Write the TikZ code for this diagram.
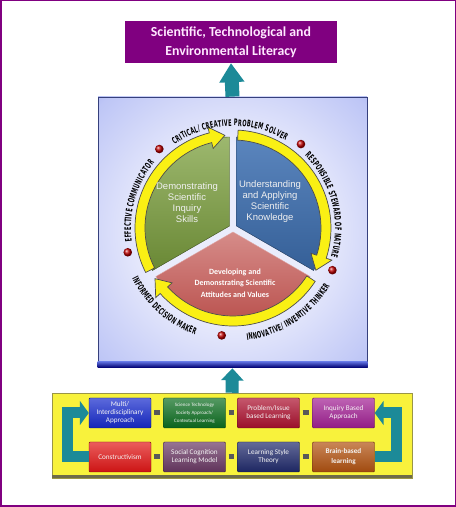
\documentclass[tikz,border=0pt]{standalone}
\usepackage{fontspec}
\setmainfont{Carlito}
\newfontfamily\arialfont{Liberation Sans}
\newfontfamily\ringfont[FakeStretch=0.55]{DejaVu Sans}
\usepackage{tikz}
\usetikzlibrary{
  arrows.meta,
  calc,
  decorations.text
}
\definecolor{goalpurple}{RGB}{128,0,128}
\definecolor{goaltext}{RGB}{255,232,255}
\definecolor{tealflow}{RGB}{28,138,152}
\definecolor{panelin}{RGB}{234,236,252}
\definecolor{panelmid}{RGB}{190,198,246}
\definecolor{panelout}{RGB}{98,116,226}
\definecolor{ringyellow}{RGB}{250,240,20}
\definecolor{inqgreen}{RGB}{124,160,62}
\definecolor{knowblue}{RGB}{62,112,178}
\definecolor{attred}{RGB}{192,78,74}
\definecolor{baseyellow}{RGB}{248,242,60}
\definecolor{multiblue}{RGB}{22,42,205}
\definecolor{stsgreen}{RGB}{12,110,32}
\definecolor{pblred}{RGB}{172,16,46}
\definecolor{inqmag}{RGB}{162,32,148}
\definecolor{consred}{RGB}{226,22,22}
\definecolor{socpurple}{RGB}{106,56,100}
\definecolor{lsnavy}{RGB}{32,42,108}
\definecolor{brainbrown}{RGB}{178,82,16}
\pgfdeclareradialshading{panelglow}{\pgfpoint{0bp}{0bp}}{color(0bp)=(panelin); color(16bp)=(panelin); color(34bp)=(panelmid); color(50bp)=(panelout)}
\newcommand{\ringstyle}{\ringfont\bfseries\fontsize{9}{9}\selectfont\kern0.3pt}
\newcommand{\ringarrow}[2]{%
  \filldraw[ringarrow] ([shift={(#1:98pt)}]c) arc[start angle=#1, end angle=#2+9, radius=98pt]
    -- ([shift={(#2+9:104pt)}]c) -- ([shift={(#2:93pt)}]c) -- ([shift={(#2+9:82pt)}]c)
    -- ([shift={(#2+9:88pt)}]c) arc[start angle=#2+9, end angle=#1, radius=88pt] -- cycle;}
\tikzset{
  goalbox/.style={
    fill=goalpurple,
    text=goaltext,
    font=\bfseries\fontsize{13.8}{19}\selectfont,
    align=center,
    minimum width=212pt,
    minimum height=42pt,
    inner sep=0pt},
  panel/.style={
    shading=panelglow,
    draw=panelout!55!black,
    line width=0.8pt,
    minimum width=269pt,
    minimum height=270pt},
  basebox/.style={
    fill=baseyellow,
    draw=yellow!55!black,
    line width=0.5pt,
    minimum width=360pt,
    minimum height=85pt},
  upflow/.style={
    -{Triangle[width=24pt,length=19pt]},
    line width=14pt,
    draw=tealflow},
  smallflow/.style={
    -{Triangle[width=22pt,length=12pt]},
    line width=13pt,
    draw=tealflow},
  cycleflow/.style={
    -{Triangle[width=24pt,length=9pt]},
    line width=11pt,
    draw=tealflow},
  approach/.style={
    top color=#1!70!white,
    bottom color=#1!90!black,
    draw=#1!55!black,
    rounded corners=1pt,
    minimum width=62pt,
    minimum height=30pt,
    inner sep=1pt,
    align=center,
    text=white!92!gray,
    font=\fontsize{7.2}{8}\selectfont},
  link/.style={
    line width=5pt,
    draw=black!65,
    shorten <=3pt,
    shorten >=3pt},
  ringarrow/.style={
    fill=ringyellow,
    draw=black!70,
    line width=0.7pt},
  sectortext/.style={
    align=center,
    text=white!88!gray,
    font=\arialfont\fontsize{9.5}{11}\selectfont},
  ringlabel/.style={
    decorate,
    decoration={text along path, text align=center, text={|\ringstyle|#1}}}
  }

\begin{document}
\begin{tikzpicture}[x=1pt,y=1pt]
  \useasboundingbox (0,0) rectangle (456,507);
  \draw[goalpurple, line width=1.5pt] (0.75,0.75) rectangle (455.25,506.25);

  \node[goalbox] (goal) at (231,465) {Scientific, Technological and\\Environmental Literacy};
  \node[panel] (panel) at (232.5,275) {};
  \shade[top color=panelout, bottom color=blue!45!black] (panel.south west) rectangle ([yshift=6pt]panel.south east);
  \node[basebox] (base) at (232,71.5) {};
  \fill[yellow!35!black] (base.south west) rectangle ([yshift=3pt]base.south east);

  \draw[upflow] (panel.north) -- (goal.south);
  \draw[smallflow] (base.north) -- ([yshift=-1pt]panel.south);

  \coordinate (c) at (233,279);
  \shade[top color=inqgreen!75!white, bottom color=inqgreen!85!black, draw=inqgreen!50!black]
    ([shift={(150:4pt)}]c) -- ++(90:89pt) arc[start angle=90, end angle=210, radius=89pt] -- cycle;
  \shade[top color=knowblue!85!white, bottom color=knowblue!85!black, draw=knowblue!50!black]
    ([shift={(30:4pt)}]c) -- ++(-30:89pt) arc[start angle=-30, end angle=90, radius=89pt] -- cycle;
  \shade[top color=attred!65!white, middle color=attred, bottom color=attred!95!black, draw=attred!50!white]
    ([shift={(270:4pt)}]c) -- ++(210:89pt) arc[start angle=210, end angle=330, radius=89pt] -- cycle;

  \ringarrow{207}{95}
  \ringarrow{87}{-27}
  \ringarrow{-33}{-147}

  \node[sectortext] (skills) at (187,304) {Demonstrating\\Scientific\\Inquiry\\Skills};
  \node[sectortext] (knowledge) at (270,305) {Understanding\\and Applying\\Scientific\\Knowledge};
  \node[sectortext, text=white, font=\bfseries\fontsize{8}{11.5}\selectfont] (attitudes) at (235,224)
    {Developing and\\Demonstrating Scientific\\Attitudes and Values};

  \foreach \a in {133,51,-23,-96,193}
    \shade[ball color=red!75!black] ([shift={(\a:108pt)}]c) circle[radius=4.3pt];

  \path[ringlabel={CRITICAL/ CREATIVE PROBLEM SOLVER}] ([shift={(133:102pt)}]c) arc[start angle=133, end angle=51, radius=102pt];
  \path[ringlabel={RESPONSIBLE STEWARD OF NATURE}] ([shift={(52:102pt)}]c) arc[start angle=52, end angle=-23, radius=102pt];
  \path[ringlabel={INNOVATIVE/ INVENTIVE THINKER}] ([shift={(-93:113pt)}]c) arc[start angle=-93, end angle=-21, radius=113pt];
  \path[ringlabel={INFORMED DECISION MAKER}] ([shift={(198:113pt)}]c) arc[start angle=198, end angle=259, radius=113pt];
  \path[ringlabel={EFFECTIVE COMMUNICATOR}] ([shift={(194:102pt)}]c) arc[start angle=194, end angle=134, radius=102pt];

  \node[approach=multiblue] (multi) at (120,94) {Multi/\\Interdisciplinary\\Approach};
  \node[approach=stsgreen, font=\fontsize{5}{7.7}\selectfont] (sts) at (194.5,94) {Science Technology\\Society Approach/\\Contextual Learning};
  \node[approach=pblred] (pbl) at (268.5,94) {Problem/Issue\\based Learning};
  \node[approach=inqmag] (inquiry) at (343.5,94) {Inquiry Based\\Approach};
  \node[approach=consred] (cons) at (120,50) {Constructivism};
  \node[approach=socpurple] (socog) at (194.5,50) {Social Cognition\\Learning Model};
  \node[approach=lsnavy] (lstyle) at (268.5,50) {Learning Style\\Theory};
  \node[approach=brainbrown, font=\bfseries\fontsize{7.2}{10}\selectfont] (brain) at (343.5,50) {Brain-based\\learning};

  \draw[link] (multi) -- (sts);
  \draw[link] (sts) -- (pbl);
  \draw[link] (pbl) -- (inquiry);
  \draw[link] (cons) -- (socog);
  \draw[link] (socog) -- (lstyle);
  \draw[link] (lstyle) -- (brain);
  \draw[cycleflow] (cons.west) -- ++(-21,0) |- (multi.west);
  \draw[cycleflow] (brain.east) -- ++(22,0) |- (inquiry.east);
\end{tikzpicture}
\end{document}
